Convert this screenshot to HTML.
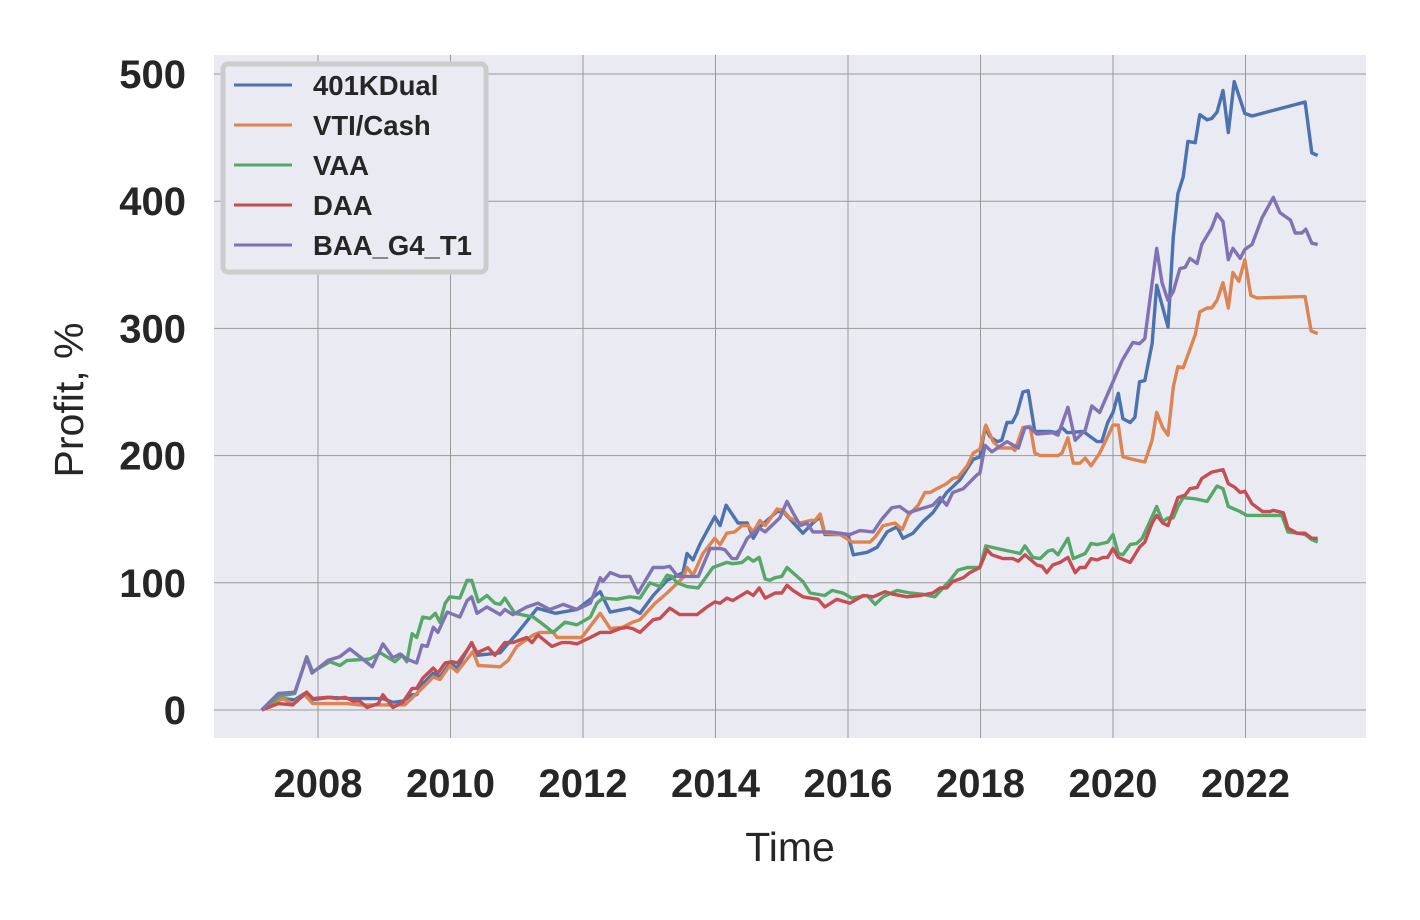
<!DOCTYPE html>
<html><head><meta charset="utf-8"><style>
html,body{margin:0;padding:0;background:#fff;}
svg{display:block;font-family:"Liberation Sans",Arial,sans-serif;}
</style></head><body>
<svg id="chart" width="1420" height="920" viewBox="0 0 1420 920" xmlns="http://www.w3.org/2000/svg">
<rect x="214" y="55" width="1152" height="683" fill="#eaeaf2"/>
<g id="grid"></g>
<g id="series"></g>
<g id="yticks"></g>
<g id="xticks"></g>
<text x="790" y="861" font-size="41" text-anchor="middle" fill="#262626">Time</text>
<text transform="translate(83,400) rotate(-90)" font-size="41" text-anchor="middle" fill="#262626">Profit, %</text>
<g id="legend"></g>
</svg>
<script>
const xTicks=[2008,2010,2012,2014,2016,2018,2020,2022];
const yTicks=[0,100,200,300,400,500];
const seriesNames=["401KDual","VTI/Cash","VAA","DAA","BAA_G4_T1"];
const seriesColors=["#4c72b0","#dd8452","#55a868","#c44e52","#8172b3"];
const dualDates=[2007.15,2007.43,2007.65,2007.83,2007.91,2008.18,2008.48,2008.98,2009.13,2009.28,2009.42,2009.49,2009.57,2009.74,2009.84,2009.99,2010.10,2010.32,2010.40,2010.75,2010.85,2011.00,2011.31,2011.58,2011.91,2012.26,2012.41,2012.71,2012.86,2013.06,2013.27,2013.51,2013.57,2013.66,2013.77,2013.99,2014.07,2014.16,2014.34,2014.48,2014.57,2014.67,2014.93,2015.02,2015.32,2015.47,2015.58,2015.65,2016.00,2016.08,2016.29,2016.44,2016.59,2016.74,2016.83,2016.98,2017.13,2017.28,2017.49,2017.69,2017.89,2017.99,2018.07,2018.14,2018.25,2018.32,2018.40,2018.48,2018.55,2018.64,2018.72,2018.82,2019.05,2019.15,2019.23,2019.31,2019.55,2019.76,2019.83,2019.92,2020.00,2020.08,2020.15,2020.26,2020.33,2020.40,2020.48,2020.59,2020.66,2020.83,2020.91,2020.98,2021.06,2021.13,2021.24,2021.31,2021.42,2021.49,2021.57,2021.66,2021.74,2021.83,2021.99,2022.10,2022.90,2023.00,2023.09];
const dualVals=[0,9,8,14,8,10,9,9,6,7,12,12,20,29,26,37,33,53,43,45,51,60,80,76,79,93,77,80,76,90,102,108,123,118,131,152,145,161,147,147,135,144,156,156,139,147,152,138,138,122,124,128,140,144,135,139,148,155,171,181,197,199,222,215,211,212,226,226,233,250,251,219,219,218,222,218,219,211,211,226,234,249,229,226,230,258,259,288,334,301,372,406,419,447,446,468,464,465,470,487,454,494,469,467,478,438,436];
const vtiDates=[2007.15,2007.46,2007.62,2007.80,2007.92,2008.44,2008.63,2009.19,2009.31,2009.43,2009.57,2009.74,2009.84,2009.99,2010.10,2010.34,2010.42,2010.75,2010.87,2011.00,2011.25,2011.35,2011.55,2011.61,2011.98,2012.26,2012.41,2012.60,2012.75,2012.86,2013.09,2013.27,2013.51,2013.57,2013.66,2013.81,2013.99,2014.07,2014.17,2014.29,2014.40,2014.49,2014.57,2014.67,2014.75,2014.93,2015.02,2015.12,2015.28,2015.43,2015.50,2015.58,2015.65,2015.88,2016.06,2016.33,2016.41,2016.53,2016.71,2016.82,2016.91,2017.06,2017.16,2017.24,2017.34,2017.49,2017.58,2017.66,2017.80,2017.89,2017.99,2018.08,2018.19,2018.29,2018.48,2018.52,2018.64,2018.75,2018.82,2018.90,2019.17,2019.23,2019.32,2019.40,2019.50,2019.58,2019.67,2019.80,2019.92,2020.00,2020.08,2020.15,2020.30,2020.48,2020.59,2020.66,2020.75,2020.83,2020.91,2020.98,2021.06,2021.24,2021.31,2021.42,2021.49,2021.57,2021.66,2021.74,2021.81,2021.90,2021.99,2022.08,2022.17,2022.90,2022.99,2023.09];
const vtiVals=[0,9,5,12,5,5,4,4,4,10,17,26,24,35,30,46,35,34,39,50,59,61,61,57,57,76,64,65,69,71,84,92,104,112,106,123,135,130,139,140,145,145,140,149,145,158,157,151,147,149,149,154,139,138,132,132,136,145,147,142,153,161,171,171,174,178,182,183,192,202,205,224,211,206,206,204,222,223,202,200,200,202,214,194,194,198,192,202,215,224,224,199,197,195,212,234,222,216,254,270,269,295,313,316,316,322,336,316,344,337,354,326,324,325,298,296];
const vaaDates=[2007.15,2007.43,2007.65,2007.83,2007.92,2008.18,2008.33,2008.44,2008.78,2008.94,2009.16,2009.27,2009.34,2009.42,2009.49,2009.58,2009.69,2009.77,2009.84,2009.92,2009.99,2010.14,2010.25,2010.32,2010.42,2010.55,2010.67,2010.75,2010.82,2010.97,2011.25,2011.38,2011.55,2011.73,2011.91,2012.11,2012.21,2012.30,2012.51,2012.60,2012.71,2012.86,2013.01,2013.16,2013.27,2013.34,2013.42,2013.57,2013.74,2013.96,2014.17,2014.26,2014.40,2014.49,2014.57,2014.66,2014.75,2014.82,2014.90,2015.00,2015.08,2015.23,2015.32,2015.43,2015.65,2015.76,2015.92,2016.06,2016.29,2016.41,2016.53,2016.74,2016.94,2017.12,2017.31,2017.54,2017.66,2017.80,2017.99,2018.08,2018.25,2018.60,2018.67,2018.79,2018.90,2019.02,2019.09,2019.17,2019.32,2019.40,2019.58,2019.67,2019.76,2019.92,2020.00,2020.08,2020.15,2020.26,2020.36,2020.44,2020.59,2020.66,2020.75,2020.83,2020.91,2020.98,2021.06,2021.24,2021.42,2021.57,2021.66,2021.74,2021.92,2022.02,2022.11,2022.55,2022.64,2022.78,2022.90,2023.00,2023.09];
const vaaVals=[0,11,13,42,30,38,35,39,40,45,38,43,38,60,57,73,72,76,69,84,89,88,102,102,85,90,84,83,88,76,73,68,61,69,67,73,84,88,87,88,89,88,100,97,106,105,100,97,96,112,116,115,116,120,117,120,103,102,104,105,112,105,101,92,90,94,92,88,90,83,89,94,92,91,89,102,110,112,112,129,127,123,129,120,119,125,126,122,135,119,123,131,130,132,138,123,122,130,131,135,152,160,148,151,151,160,167,166,164,176,174,160,156,153,153,153,140,139,138,134,132];
const daaDates=[2007.15,2007.40,2007.62,2007.83,2007.92,2008.14,2008.29,2008.41,2008.53,2008.63,2008.74,2008.91,2008.98,2009.13,2009.28,2009.42,2009.49,2009.58,2009.74,2009.81,2009.92,2010.02,2010.11,2010.25,2010.32,2010.40,2010.57,2010.67,2010.82,2010.94,2011.15,2011.23,2011.32,2011.53,2011.68,2011.80,2011.91,2012.11,2012.26,2012.41,2012.56,2012.66,2012.75,2012.86,2013.06,2013.16,2013.31,2013.46,2013.72,2013.87,2013.99,2014.07,2014.17,2014.26,2014.48,2014.57,2014.66,2014.75,2014.90,2015.00,2015.08,2015.17,2015.32,2015.43,2015.55,2015.65,2015.83,2016.03,2016.23,2016.38,2016.56,2016.68,2016.89,2017.09,2017.28,2017.39,2017.49,2017.58,2017.74,2017.84,2017.99,2018.10,2018.17,2018.34,2018.49,2018.57,2018.67,2018.85,2018.93,2019.00,2019.09,2019.20,2019.32,2019.43,2019.50,2019.58,2019.67,2019.76,2019.85,2019.92,2020.00,2020.08,2020.26,2020.40,2020.48,2020.59,2020.66,2020.75,2020.83,2020.98,2021.09,2021.16,2021.27,2021.34,2021.49,2021.66,2021.74,2021.84,2021.92,2021.99,2022.10,2022.26,2022.37,2022.42,2022.57,2022.64,2022.78,2022.90,2023.00,2023.09];
const daaVals=[0,5,4,14,9,10,9,10,7,7,2,5,12,2,6,17,17,25,33,29,37,38,37,47,53,45,49,43,53,53,57,53,59,50,53,53,52,57,61,61,64,65,64,61,71,72,80,75,75,81,85,84,88,86,93,90,96,88,92,92,98,94,89,88,87,81,87,84,90,89,93,91,89,90,92,96,96,101,104,108,112,126,122,119,119,117,122,114,113,108,114,116,120,108,112,112,119,118,120,120,127,120,116,128,132,147,153,147,145,167,169,174,175,182,187,189,178,175,171,172,162,156,156,157,155,143,139,139,135,135];
const baaDates=[2007.15,2007.40,2007.65,2007.83,2007.91,2008.15,2008.33,2008.48,2008.63,2008.82,2008.98,2009.13,2009.24,2009.34,2009.49,2009.57,2009.65,2009.74,2009.81,2009.95,2010.14,2010.25,2010.32,2010.40,2010.55,2010.75,2010.82,2010.94,2011.15,2011.32,2011.50,2011.70,2011.91,2012.11,2012.26,2012.30,2012.41,2012.56,2012.71,2012.83,2013.06,2013.21,2013.31,2013.43,2013.74,2013.92,2014.07,2014.14,2014.25,2014.32,2014.48,2014.66,2014.75,2014.97,2015.08,2015.17,2015.28,2015.38,2015.47,2015.73,2016.03,2016.18,2016.38,2016.51,2016.66,2016.78,2016.91,2017.09,2017.28,2017.39,2017.49,2017.58,2017.74,2017.95,2017.99,2018.07,2018.17,2018.40,2018.57,2018.67,2018.75,2018.85,2019.09,2019.17,2019.32,2019.43,2019.58,2019.68,2019.80,2020.14,2020.30,2020.40,2020.48,2020.66,2020.74,2020.83,2020.91,2021.01,2021.09,2021.16,2021.27,2021.34,2021.49,2021.57,2021.66,2021.74,2021.81,2021.92,2021.99,2022.10,2022.25,2022.42,2022.52,2022.68,2022.75,2022.85,2022.91,2023.00,2023.09];
const baaVals=[0,13,14,41,29,39,42,48,42,34,52,41,44,40,37,51,50,65,61,77,73,86,89,76,81,75,79,75,81,84,79,83,79,84,104,101,108,105,105,92,112,112,113,105,105,127,127,126,119,119,135,143,140,151,164,155,145,147,140,140,138,141,140,150,159,160,155,158,161,167,161,171,174,185,186,208,203,211,206,222,222,217,218,216,238,212,220,239,234,275,289,288,292,363,336,322,329,347,348,355,351,366,379,390,384,354,363,355,362,366,387,403,391,385,375,375,378,367,366];
const allDates=[dualDates,vtiDates,vaaDates,daaDates,baaDates];
const allVals=[dualVals,vtiVals,vaaVals,daaVals,baaVals];

const NS="http://www.w3.org/2000/svg";
const X0=214,X1=1366,Y0=55,Y1=738;
function xs(yr){return 318+(yr-2008)*66.25;}
function ys(v){return 710-v*1.272;}
function mk(tag,attrs,parent){const e=document.createElementNS(NS,tag);for(const k in attrs)e.setAttribute(k,attrs[k]);parent.appendChild(e);return e;}
const grid=document.getElementById('grid');
const yt=document.getElementById('yticks');
const xt=document.getElementById('xticks');
xTicks.forEach(t=>{
  const l=mk('line',{x1:xs(t),x2:xs(t),y1:Y0,y2:Y1,stroke:'#999',"stroke-width":1},grid);
  
  
  const tx=mk('text',{x:xs(t),y:797,"font-size":40,"font-weight":"bold","text-anchor":"middle",fill:'#262626'},xt);
  
  
  tx.textContent=t;
});
yTicks.forEach(t=>{
  const l=mk('line',{x1:X0,x2:X1,y1:ys(t),y2:ys(t),stroke:'#999',"stroke-width":1},grid);
  
  
  const tx=mk('text',{x:186,y:ys(t)+14,"font-size":40,"font-weight":"bold","text-anchor":"end",fill:'#262626'},yt);
  
  
  tx.textContent=t;
});
const sg=document.getElementById('series');
allDates.forEach((ds,i)=>{
  const vs=allVals[i];
  const pts=ds.map((d,j)=>xs(d).toFixed(1)+','+ys(vs[j]).toFixed(1)).join(' ');
  const p=mk('polyline',{points:pts,fill:'none',stroke:seriesColors[i],"stroke-width":3.4,"stroke-linejoin":"round"},sg);
  
  
});
const lg=document.getElementById('legend');
const box=mk('rect',{x:223,y:64,width:263,height:208,rx:5,fill:'#eaeaf2',stroke:'#cccccc',"stroke-width":5},lg);


seriesNames.forEach((n,i)=>{
  const y=85+i*40;
  const l=mk('line',{x1:234,x2:292,y1:y,y2:y,stroke:seriesColors[i],"stroke-width":3},lg);
  
  
  const t=mk('text',{x:313,y:y+10,"font-size":27.5,"font-weight":"bold",fill:'#262626'},lg);
  
  
  t.textContent=n;
});
</script>
</body></html>
